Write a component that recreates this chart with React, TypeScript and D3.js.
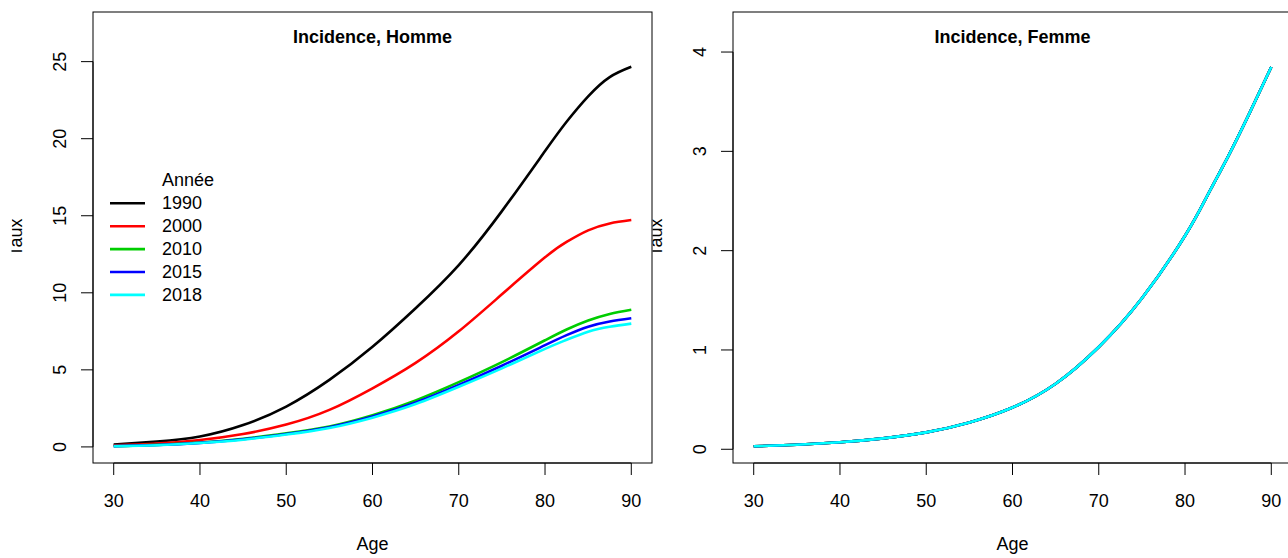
import React from "react";
import * as d3 from "d3";

const ages = [30, 35, 40, 45, 50, 55, 60, 65, 70, 75, 80, 82.5, 85, 87.5, 90];
const years = ["1990", "2000", "2010", "2015", "2018"];
const colors = ["#000000", "#FF0000", "#00CD00", "#0000FF", "#00FFFF"];

const homme1990 = [0.15, 0.35, 0.68, 1.42, 2.62, 4.35, 6.5, 9.0, 11.8, 15.3, 19.2, 21.1, 22.75, 24.0, 24.67];
const homme2000 = [0.1, 0.22, 0.45, 0.84, 1.45, 2.4, 3.8, 5.45, 7.5, 9.9, 12.3, 13.3, 14.05, 14.5, 14.72];
const homme2010 = [0.05, 0.13, 0.28, 0.53, 0.88, 1.33, 2.06, 3.02, 4.2, 5.5, 6.92, 7.62, 8.2, 8.63, 8.9];
const homme2015 = [0.05, 0.12, 0.26, 0.5, 0.84, 1.28, 1.97, 2.88, 4.02, 5.27, 6.6, 7.25, 7.8, 8.14, 8.35];
const homme2018 = [0.04, 0.11, 0.25, 0.47, 0.8, 1.23, 1.9, 2.78, 3.9, 5.1, 6.36, 6.95, 7.48, 7.8, 8.0];

const femme1990 = [0.03, 0.045, 0.07, 0.11, 0.17, 0.27, 0.42, 0.66, 1.03, 1.52, 2.15, 2.54, 2.95, 3.39, 3.85];
const femme2000 = [0.03, 0.045, 0.07, 0.11, 0.17, 0.27, 0.42, 0.66, 1.03, 1.52, 2.15, 2.54, 2.95, 3.39, 3.85];
const femme2010 = [0.03, 0.045, 0.07, 0.11, 0.17, 0.27, 0.42, 0.66, 1.03, 1.52, 2.15, 2.54, 2.95, 3.39, 3.85];
const femme2015 = [0.03, 0.045, 0.07, 0.11, 0.17, 0.27, 0.42, 0.66, 1.03, 1.52, 2.15, 2.54, 2.95, 3.39, 3.85];
const femme2018 = [0.03, 0.045, 0.07, 0.11, 0.17, 0.27, 0.42, 0.66, 1.03, 1.52, 2.15, 2.54, 2.95, 3.39, 3.85];

const xTicks = [30, 40, 50, 60, 70, 80, 90];
const yTicksHomme = [0, 5, 10, 15, 20, 25];
const yTicksFemme = [0, 1, 2, 3, 4];

const FONT = "'Liberation Sans', Arial, Helvetica, sans-serif";
const FS = 18;

type PanelProps = {
  left: number;
  right: number;
  top: number;
  bottom: number;
  title: string;
  series: number[][];
  yTicks: number[];
  legend: boolean;
  clipId: string;
  figLeft: number;
};

function Panel(p: PanelProps) {
  const all = p.series.flat();
  const lo = d3.min(all) as number;
  const hi = (d3.max(all) as number) * 1.1;
  const ext = (hi - lo) * 0.04;
  const xLo = d3.min(ages) as number;
  const xHi = d3.max(ages) as number;
  const xExt = (xHi - xLo) * 0.04;
  const x = d3.scaleLinear().domain([xLo - xExt, xHi + xExt]).range([p.left, p.right]);
  const y = d3.scaleLinear().domain([lo - ext, hi + ext]).range([p.bottom, p.top]);
  const line = d3
    .line<number>()
    .x((_, i) => x(ages[i]))
    .y((d) => y(d))
    .curve(d3.curveNatural);
  const cx = (p.left + p.right) / 2;
  const cy = (p.top + p.bottom) / 2;
  const tl = 12;
  return (
    <g>
      <defs>
        <clipPath id={p.clipId}>
          <rect x={p.figLeft} y={0} width={2000} height={600} />
        </clipPath>
      </defs>
      {p.series.map((s, i) => (
        <path key={i} d={line(s) || ""} fill="none" stroke={colors[i]} strokeWidth={2.6} />
      ))}
      <rect x={p.left} y={p.top} width={p.right - p.left} height={p.bottom - p.top} fill="none" stroke="#000" strokeWidth={1} />
      <line x1={x(xTicks[0])} x2={x(xTicks[xTicks.length - 1])} y1={p.bottom} y2={p.bottom} stroke="#000" />
      {xTicks.map((t) => (
        <g key={t}>
          <line x1={x(t)} x2={x(t)} y1={p.bottom} y2={p.bottom + tl} stroke="#000" />
          <text x={x(t)} y={507} textAnchor="middle" fontSize={FS} fontFamily={FONT}>
            {t}
          </text>
        </g>
      ))}
      <line x1={p.left} x2={p.left} y1={y(p.yTicks[0])} y2={y(p.yTicks[p.yTicks.length - 1])} stroke="#000" />
      {p.yTicks.map((t) => (
        <g key={t}>
          <line x1={p.left - tl} x2={p.left} y1={y(t)} y2={y(t)} stroke="#000" />
          <text transform={`translate(${p.left - 27},${y(t)}) rotate(-90)`} textAnchor="middle" fontSize={FS} fontFamily={FONT}>
            {t}
          </text>
        </g>
      ))}
      <text x={cx} y={43.3} textAnchor="middle" fontSize={FS} fontWeight="bold" fontFamily={FONT}>
        {p.title}
      </text>
      <text x={cx} y={550} textAnchor="middle" fontSize={FS} fontFamily={FONT}>
        Age
      </text>
      <g clipPath={`url(#${p.clipId})`}>
        <text transform={`translate(${p.left - 71},${cy}) rotate(-90)`} textAnchor="middle" fontSize={FS} fontFamily={FONT}>
          Taux
        </text>
      </g>
      {p.legend && (
        <g>
          <text x={p.left + 69} y={180.4} dominantBaseline="central" fontSize={FS} fontFamily={FONT}>
            Année
          </text>
          {years.map((yr, i) => {
            const ly = 203.3 + i * 22.9;
            return (
              <g key={yr}>
                <line x1={p.left + 17} x2={p.left + 52} y1={ly} y2={ly} stroke={colors[i]} strokeWidth={2.6} />
                <text x={p.left + 69} y={ly} dominantBaseline="central" fontSize={FS} fontFamily={FONT}>
                  {yr}
                </text>
              </g>
            );
          })}
        </g>
      )}
    </g>
  );
}

export default function App() {
  return (
    <svg
      width={1288}
      height={558}
      style={{ position: "absolute", left: 0, top: 0, background: "#fff" }}
    >
      <rect x={0} y={0} width={1288} height={558} fill="#fff" />
      <Panel
        left={93}
        right={652}
        top={12}
        bottom={463}
        title="Incidence, Homme"
        series={[homme1990, homme2000, homme2010, homme2015, homme2018]}
        yTicks={yTicksHomme}
        legend={true}
        clipId="clipL"
        figLeft={11.5}
      />
      <Panel
        left={733}
        right={1292}
        top={12}
        bottom={463}
        title="Incidence, Femme"
        series={[femme1990, femme2000, femme2010, femme2015, femme2018]}
        yTicks={yTicksFemme}
        legend={false}
        clipId="clipR"
        figLeft={652.5}
      />
    </svg>
  );
}
